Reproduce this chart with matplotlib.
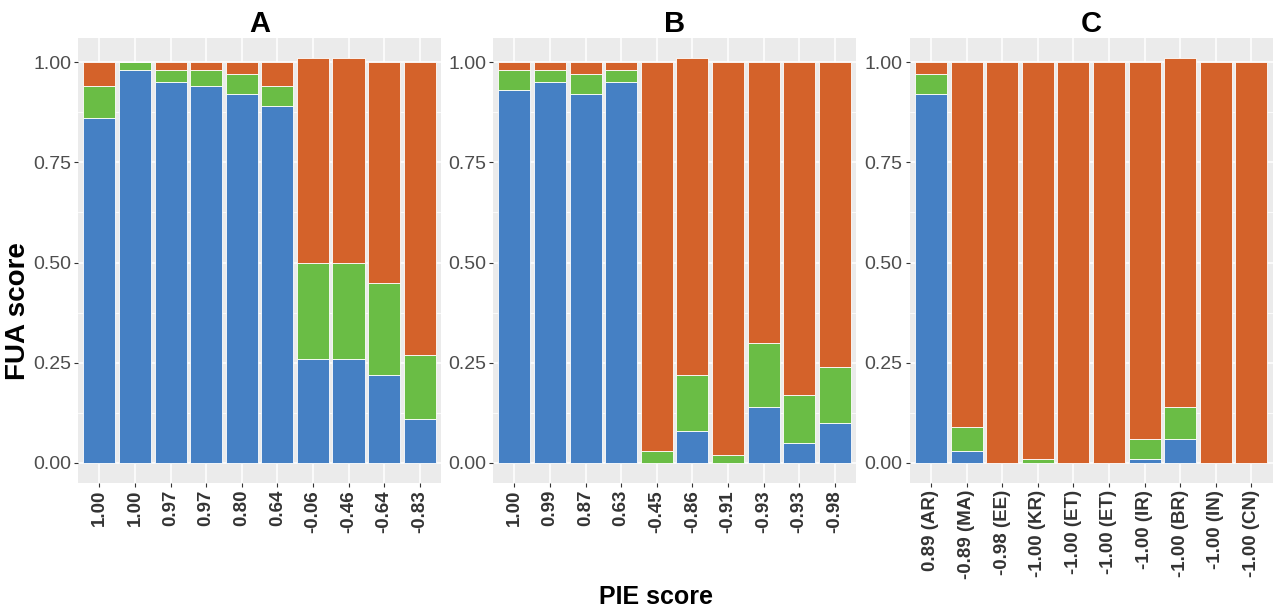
"""Stacked FUA score bars for three PIE groups (A, B, C)"""

import matplotlib.pyplot as plt
import numpy as np

plt.rcParams['font.family'] = ['Liberation Sans', 'DejaVu Sans']

# Panel A
labels_a = ['1.00', '1.00', '0.97', '0.97', '0.80', '0.64', '-0.06', '-0.46', '-0.64', '-0.83']
blue_a = [0.86, 0.98, 0.95, 0.94, 0.92, 0.89, 0.26, 0.26, 0.22, 0.11]
green_a = [0.08, 0.02, 0.03, 0.04, 0.05, 0.05, 0.24, 0.24, 0.23, 0.16]
orange_a = [0.06, 0.00, 0.02, 0.02, 0.03, 0.06, 0.51, 0.51, 0.55, 0.73]

# Panel B
labels_b = ['1.00', '0.99', '0.87', '0.63', '-0.45', '-0.86', '-0.91', '-0.93', '-0.93', '-0.98']
blue_b = [0.93, 0.95, 0.92, 0.95, 0.00, 0.08, 0.00, 0.14, 0.05, 0.10]
green_b = [0.05, 0.03, 0.05, 0.03, 0.03, 0.14, 0.02, 0.16, 0.12, 0.14]
orange_b = [0.02, 0.02, 0.03, 0.02, 0.97, 0.79, 0.98, 0.70, 0.83, 0.76]

# Panel C
labels_c = ['0.89 (AR)', '-0.89 (MA)', '-0.98 (EE)', '-1.00 (KR)', '-1.00 (ET)',
            '-1.00 (ET)', '-1.00 (IR)', '-1.00 (BR)', '-1.00 (IN)', '-1.00 (CN)']
blue_c = [0.92, 0.03, 0.00, 0.00, 0.00, 0.00, 0.01, 0.06, 0.00, 0.00]
green_c = [0.05, 0.06, 0.00, 0.01, 0.00, 0.00, 0.05, 0.08, 0.00, 0.00]
orange_c = [0.03, 0.91, 1.00, 0.99, 1.00, 1.00, 0.94, 0.87, 1.00, 1.00]

panels = [
    ('A', labels_a, blue_a, green_a, orange_a),
    ('B', labels_b, blue_b, green_b, orange_b),
    ('C', labels_c, blue_c, green_c, orange_c),
]

BLUE = '#4580C4'
GREEN = '#6ABD45'
ORANGE = '#D4622A'

fig = plt.figure(figsize=(12.74, 6.07), dpi=100)
lefts = [0.0612, 0.387, 0.714]

for left, (title, labels, blue, green, orange) in zip(lefts, panels):
    ax = fig.add_axes([left, 0.2043, 0.285, 0.733])
    x = np.arange(len(labels))
    blue = np.array(blue)
    green = np.array(green)
    orange = np.array(orange)

    ax.set_facecolor('#EBEBEB')
    # ggplot-like grid: major + minor horizontal, vertical at categories
    for yv in [0, 0.25, 0.5, 0.75, 1.0]:
        ax.axhline(yv, color='white', lw=1.1, zorder=0)
    for yv in [0.125, 0.375, 0.625, 0.875]:
        ax.axhline(yv, color='white', lw=0.55, zorder=0)
    for xv in x:
        ax.axvline(xv, color='white', lw=1.1, zorder=0)

    kw = dict(width=0.9, edgecolor='white', linewidth=0.6, zorder=2)
    ax.bar(x, blue, color=BLUE, **kw)
    ax.bar(x, green, bottom=blue, color=GREEN, **kw)
    ax.bar(x, orange, bottom=blue + green, color=ORANGE, **kw)

    ax.set_xlim(-0.6, len(labels) - 0.4)
    ax.set_ylim(-0.0505, 1.0605)
    ax.set_yticks([0, 0.25, 0.5, 0.75, 1.0])
    ax.set_yticklabels(['0.00', '0.25', '0.50', '0.75', '1.00'],
                       fontsize=14, color='#4D4D4D')
    ax.set_xticks(x)
    ax.set_xticklabels(labels, rotation=90, fontsize=13.5, fontweight='bold',
                       color='#333333')
    ax.tick_params(length=3, width=0.8, color='#333333', pad=2)
    for s in ax.spines.values():
        s.set_visible(False)
    ax.set_title(title, fontsize=21, fontweight='bold', pad=4)

fig.text(0.014, 0.487, 'FUA score', rotation=90, ha='center', va='center',
         fontsize=20, fontweight='bold')
fig.text(0.515, 0.016, 'PIE score', ha='center', va='center',
         fontsize=18, fontweight='bold')

fig.savefig('out.png', dpi=100)
